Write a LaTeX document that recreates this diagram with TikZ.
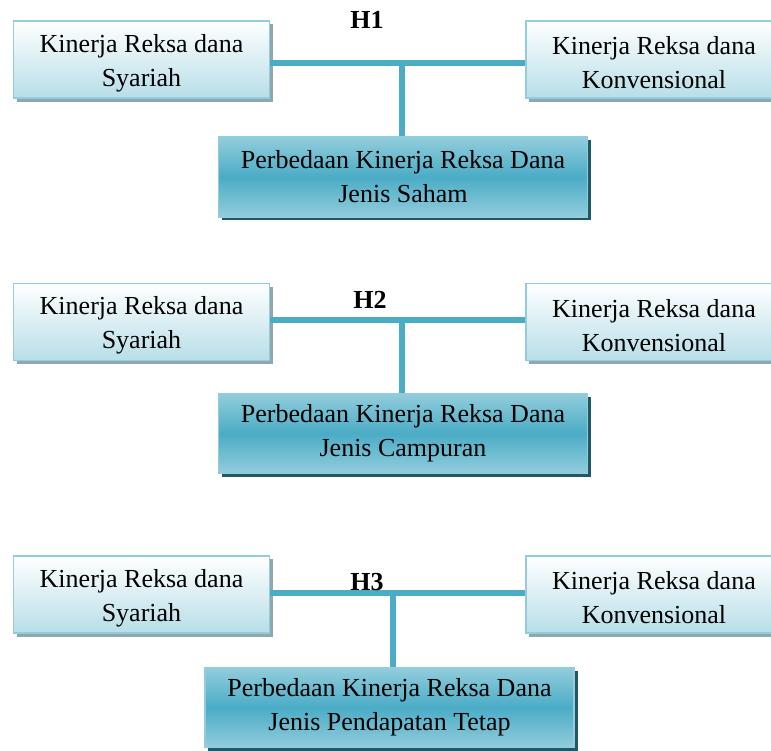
\documentclass[tikz,border=0pt]{standalone}
\usepackage{fontspec}
\setmainfont{Liberation Serif}
\usepackage{tikz}
\usetikzlibrary{positioning, calc, shadows}
\definecolor{accfive}{HTML}{4BACC6}
\definecolor{acclight}{HTML}{92CDDC}
\definecolor{accpale}{HTML}{B7DEE8}
\definecolor{accedge}{HTML}{93CDDD}
\definecolor{shadegray}{HTML}{8FA7AF}
\definecolor{shadedark}{HTML}{215867}
\tikzset{factor/.style={rectangle,draw=accedge,line width=1.2pt,top color=white,bottom color=accpale,
           minimum width=192pt,minimum height=58pt,align=center,text height=44pt,
           drop shadow={shadow xshift=2.6pt,shadow yshift=-2.6pt,fill=shadegray,opacity=1}},
         result/.style={rectangle,draw=accedge,line width=1.2pt,top color=acclight,bottom color=acclight,middle color=accfive,
           minimum width=277pt,minimum height=60pt,align=center,
           drop shadow={shadow xshift=2.6pt,shadow yshift=-2.6pt,fill=shadedark,opacity=1}},
         hyp/.style={font=\fontsize{19.5}{25.5}\selectfont\bfseries},
         link/.style={draw=accfive,line width=3.8pt}}

\begin{document}
\begin{tikzpicture}[x=0.75pt,y=-0.75pt,font=\fontsize{19.5}{25.5}\selectfont]
    \useasboundingbox (0,0) rectangle (771,750);
    % H1
    \node (syar1) at (141.5,59.5) [factor]{Kinerja Reksa dana\\Syariah};
    \node (konv1) at (654,59.5) [factor]{Kinerja Reksa dana\\Konvensional};
    \node (beda1) at (403,177) [result]{Perbedaan Kinerja Reksa Dana\\Jenis Saham};
    \node (h1) at (367,20) [hyp]{H1};
    \coordinate (j1) at (402,63);
    \draw[link] (syar1.east |- j1) -- (konv1.west |- j1);
    \draw[link] (j1) -- (j1 |- beda1.north);
    % H2
    \node (syar2) at (141.5,322) [factor]{Kinerja Reksa dana\\Syariah};
    \node (konv2) at (654,322) [factor]{Kinerja Reksa dana\\Konvensional};
    \node (beda2) at (403,433.5) [result]{Perbedaan Kinerja Reksa Dana\\Jenis Campuran};
    \coordinate (j2) at (402,320);
    \draw[link] (syar2.east |- j2) -- (konv2.west |- j2);
    \draw[link] (j2) -- (j2 |- beda2.north);
    \node (h2) at (370,300) [hyp]{H2};
    % H3
    \node (syar3) at (141.5,594.5) [factor]{Kinerja Reksa dana\\Syariah};
    \node (konv3) at (654,594.5) [factor]{Kinerja Reksa dana\\Konvensional};
    \node (beda3) at (389.5,707.5) [result]{Perbedaan Kinerja Reksa Dana\\Jenis Pendapatan Tetap};
    \coordinate (j3) at (393,593);
    \draw[link] (syar3.east |- j3) -- (konv3.west |- j3);
    \draw[link] (j3) -- (j3 |- beda3.north);
    \node (h3) at (367,582) [hyp]{H3};
  \end{tikzpicture}
\end{document}
